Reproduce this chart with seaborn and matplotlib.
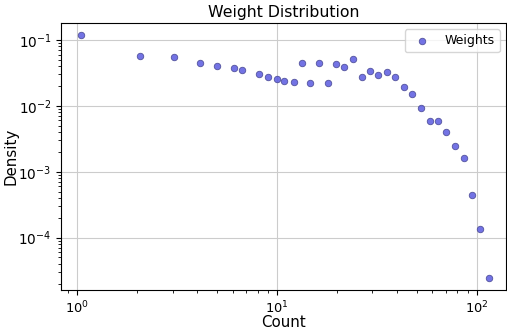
import matplotlib
matplotlib.use("Agg")
import matplotlib.pyplot as plt
import seaborn as sns
import pandas as pd

counts = [1.04, 2.07, 3.05, 4.12, 5.0, 6.06, 6.70, 8.12, 9.01, 9.95, 10.9, 12.1,
          13.3, 14.7, 16.2, 17.9, 19.7, 21.7, 24.0, 26.5, 29.1, 32.2, 35.5, 39.1,
          43.2, 47.5, 52.5, 58.0, 64.0, 70.4, 77.9, 85.9, 94.3, 103.8, 115.1]
density = [0.119, 0.0564, 0.0552, 0.0453, 0.0407, 0.0376, 0.0346, 0.0305, 0.0277,
           0.0252, 0.0239, 0.0233, 0.0441, 0.0223, 0.0441, 0.0223, 0.0426, 0.0394,
           0.0515, 0.0275, 0.0334, 0.0290, 0.0327, 0.0277, 0.0194, 0.0153, 0.00916,
           0.00586, 0.00579, 0.00406, 0.00247, 0.00162, 0.000438, 0.000134, 2.41e-5]

df = pd.DataFrame({"Count": counts, "Density": density})

fig = plt.figure(figsize=(5.07, 3.32), dpi=100)
ax = fig.add_axes([61/507, 1 - 290/332, (506 - 61)/507, (290 - 23)/332])
sns.scatterplot(data=df, x="Count", y="Density", ax=ax, color="#5a5ae0", alpha=0.85,
                edgecolor="#44448f", linewidth=0.6, s=22, label="Weights")
ax.set_xscale("log")
ax.set_yscale("log")
ax.set_xlim(0.83, 140)
ax.set_ylim(1.6e-5, 0.181)
ax.grid(True, which="major", color="#cccccc", linewidth=0.8)
ax.set_axisbelow(True)
ax.set_title("Weight Distribution", fontsize=11.3, pad=4)
ax.set_xlabel("Count", fontsize=10.8, labelpad=-1)
ax.set_ylabel("Density", fontsize=10.8, labelpad=0)
ax.tick_params(axis="x", labelsize=9.4)
ax.tick_params(axis="y", labelsize=9.8)
ax.legend(loc="upper right", fontsize=9)
fig.savefig("out.png", dpi=100)
